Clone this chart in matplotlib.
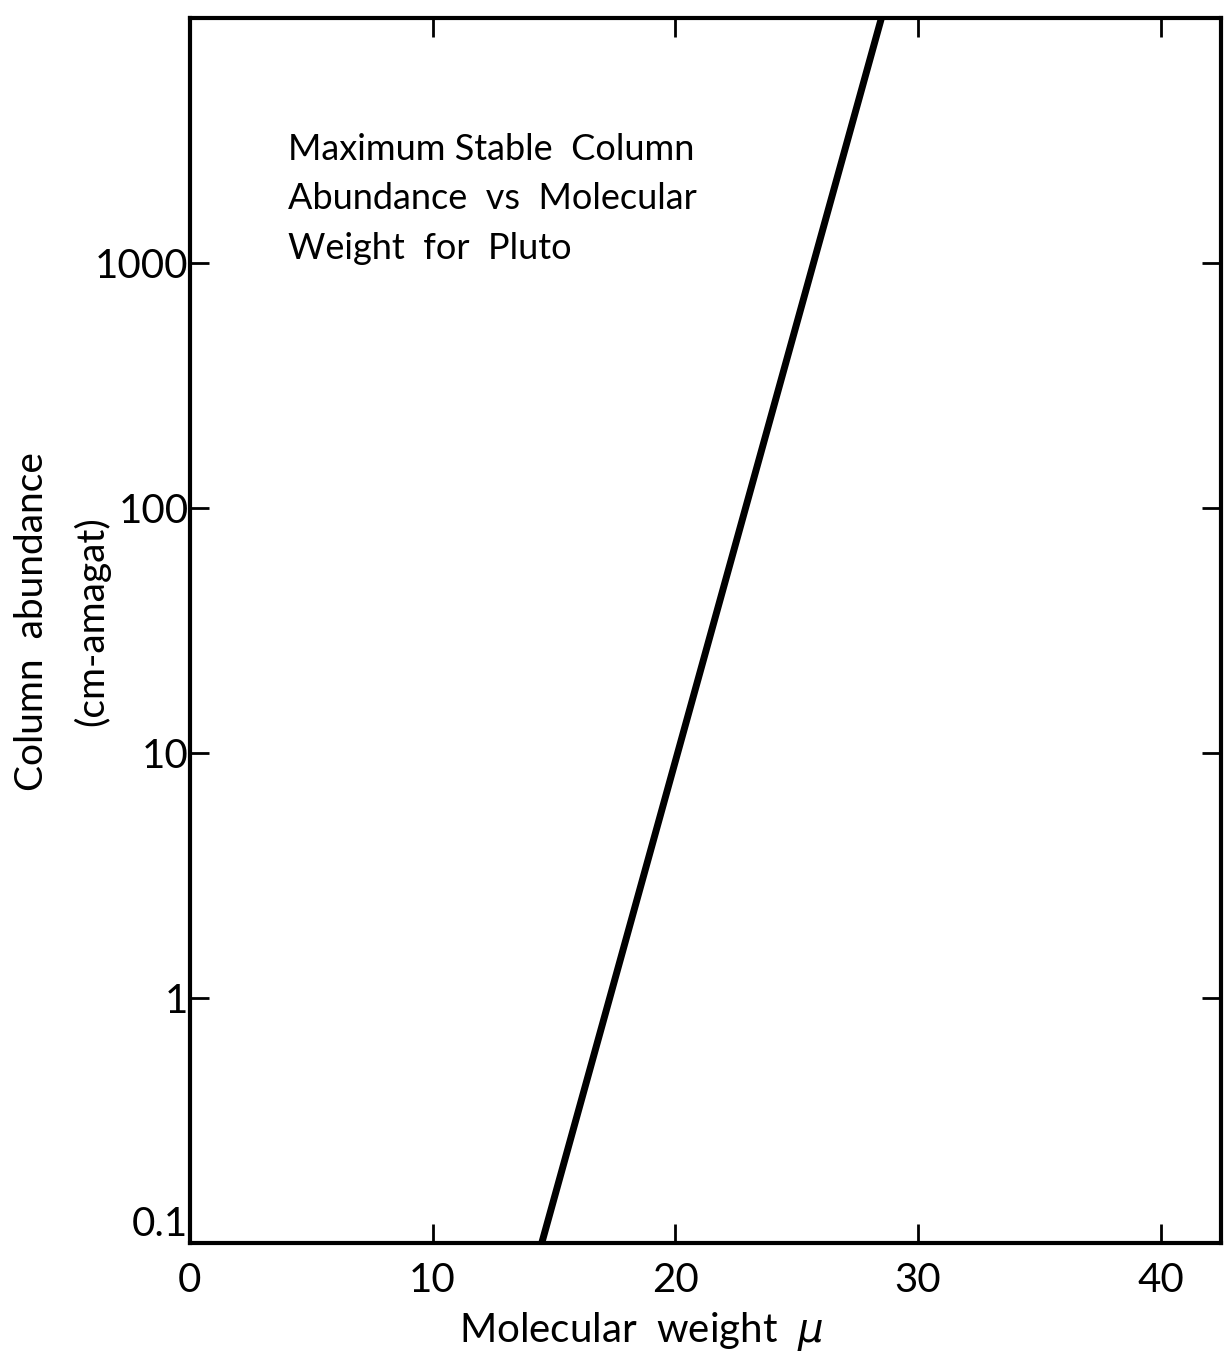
"""Maximum stable column abundance vs molecular weight for Pluto."""
import matplotlib

matplotlib.use("Agg")
import matplotlib.pyplot as plt  # noqa: E402

# straight line on semilog axes
mol_weight = [14.5, 17.3, 20.1, 22.9, 25.7, 28.5]
column_abundance = [0.1, 1, 10, 100, 1000, 10000]

x_ticks = [0, 10, 20, 30, 40]
y_ticks = [0.1, 1, 10, 100, 1000]
y_tick_labels = ["0.1", "1", "10", "100", "1000"]

plt.rcParams["font.family"] = ["Lato", "DejaVu Sans"]

fig = plt.figure(figsize=(12.25, 13.51), dpi=100)
ax = fig.add_axes([0.155, 0.080, 0.842, 0.907])

ax.plot(mol_weight, column_abundance, color="black", lw=5, solid_capstyle="butt")
ax.set_yscale("log")
ax.set_xlim(0, 42.5)
ax.set_ylim(0.1, 10000)

ax.set_xticks(x_ticks)
ax.set_xticklabels([str(t) for t in x_ticks])
ax.set_yticks(y_ticks)
ax.set_yticklabels(y_tick_labels)
ax.minorticks_off()
ax.tick_params(direction="in", length=14, width=2, labelsize=29, pad=14,
               top=True, right=True)
ax.tick_params(axis="y", pad=1)
# the 0.1 label sits just above the corner in the original
ax.get_yticklabels()[0].set_va("bottom")

for sp in ax.spines.values():
    sp.set_linewidth(3)

ax.set_xlabel(r"Molecular  weight  $\mu$", fontsize=29)
ax.xaxis.set_label_coords(0.437, -0.055)
fig.text(0.026, 0.54, "Column  abundance", rotation=90, fontsize=28,
         ha="center", va="center")
fig.text(0.075, 0.54, "(cm-amagat)", rotation=90, fontsize=28,
         ha="center", va="center")

ax.text(0.095, 0.906, "Maximum Stable  Column\nAbundance  vs  Molecular\nWeight  for  Pluto",
        transform=ax.transAxes, fontsize=26, ha="left", va="top", linespacing=1.62)

fig.savefig("out.png", dpi=100)
plt.close(fig)
